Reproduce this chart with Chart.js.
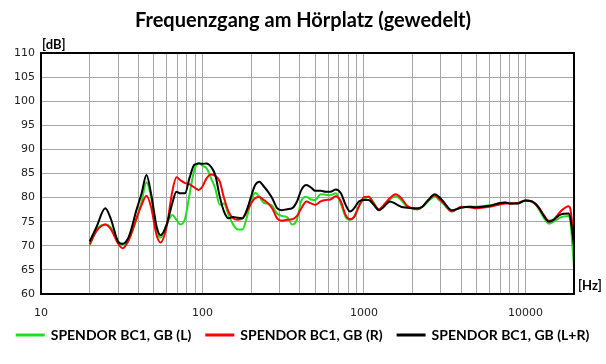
<!DOCTYPE html>
<html>
<head>
<meta charset="utf-8">
<script src="https://cdn.jsdelivr.net/npm/chart.js@4.4.1/dist/chart.umd.min.js"></script>
<style>
  body { margin: 0; background: #fff; }
  #wrap { width: 606px; height: 364px; }
</style>
</head>
<body>
<div id="wrap"><canvas id="myChart" width="606" height="364"></canvas></div>
<script>
// frequencies [Hz]
let freqs = [20, 22, 25, 27, 30, 32, 35, 39, 42, 45, 48, 52, 55, 60, 65, 69, 73, 78, 83, 89,
    95, 100, 106, 113, 120, 128, 136, 145, 155, 165, 177, 190, 200, 212, 225, 240, 255, 270, 290, 310,
    335, 360, 385, 410, 440, 470, 500, 540, 580, 620, 670, 720, 770, 820, 870, 930, 1000, 1070, 1150, 1240,
    1330, 1450, 1570, 1700, 1850, 2000, 2150, 2300, 2500, 2750, 2900, 3100, 3500, 4000, 4500, 5000, 6000, 7000, 7500, 8000,
    9000, 10000, 11000, 12000, 13000, 14000, 15000, 16500, 18500, 19000, 20000];

// levels [dB]
let left = [70, 73.2, 74.4, 73.8, 70.9, 70.3, 71.4, 75.4, 79.2, 83.2, 80.2, 73.3, 71.7, 74.4, 76.4, 75.4, 74.4, 75.6, 80.5, 85.7,
    87.2, 86.6, 86.1, 84, 81.9, 78.5, 78.8, 76.4, 74.4, 73.4, 73.4, 76.4, 79.2, 81, 80.2, 78.9, 78.7, 78.3, 76.7, 76.2,
    75.9, 74.4, 75.5, 79.4, 80.2, 79.6, 79.5, 80.7, 80.6, 80.5, 80.9, 78.7, 76, 75.4, 76, 78.3, 79.6, 80.2, 78.9, 77.4,
    78.3, 79.6, 80.3, 79.5, 78.1, 77.7, 77.6, 78.1, 79.2, 80.3, 79.6, 78.7, 77.2, 78, 78.1, 78.1, 78.4, 78.9, 79, 78.8,
    78.8, 79.4, 79.2, 77.8, 75.8, 74.6, 75, 75.9, 76.2, 75, 65.5];

let right = [70.3, 73, 74.4, 73.5, 70.5, 69.5, 71.2, 75.7, 78.5, 80.4, 78.1, 72.2, 70.7, 74, 81.2, 84.2, 83.6, 83, 82.8, 82.1,
    81.6, 82.3, 84, 84.8, 84.5, 83.3, 79.9, 77.1, 75.7, 75.4, 75.7, 77.4, 78.8, 79.9, 80.1, 79.5, 78.8, 77.8, 75.7, 75.2,
    75.4, 75.5, 76.2, 77.8, 79.2, 78.8, 78.5, 79.2, 79.5, 79.6, 80.3, 79.2, 76.4, 75.5, 76, 78.1, 80.1, 80.2, 78.8, 77.6,
    78.5, 79.9, 80.7, 79.9, 78.3, 77.8, 77.6, 78.1, 79.4, 80.5, 79.9, 78.9, 77.1, 78.1, 78, 77.8, 78.1, 78.6, 78.8, 78.8,
    78.9, 79.4, 79.1, 78.1, 76.4, 75.2, 75.5, 77.1, 78.2, 77.6, 71];

let both = [70.9, 73.8, 77.8, 75.7, 70.9, 70.4, 71.9, 77.4, 80.9, 84.7, 80.9, 74, 72.2, 74.4, 78.8, 81.2, 80.9, 80.9, 84, 86.8,
    87.1, 87, 87.1, 86.4, 84.7, 80.2, 77.1, 75.7, 76, 75.8, 75.7, 77.8, 80.2, 82.6, 83.3, 82.3, 81.2, 79.9, 77.8, 77.4,
    77.6, 77.8, 79.2, 81.6, 82.6, 82.1, 81.4, 81.4, 81.2, 81.2, 81.7, 80.9, 78.5, 77.1, 77.8, 79.2, 79.5, 79.5, 78.5, 77.4,
    78.1, 79.2, 78.7, 78.1, 77.9, 77.8, 77.8, 78.1, 79.5, 80.7, 80.2, 79.2, 77.4, 77.9, 78.1, 78, 78.3, 78.9, 79, 78.8,
    78.8, 79.4, 79.2, 78.1, 76.2, 75, 75.4, 76.5, 76.7, 75.7, 70];

let gridFreqs = [10, 20, 30, 40, 50, 60, 70, 80, 90, 100, 200, 300, 400, 500, 600, 700, 800, 900,
    1000, 2000, 3000, 4000, 5000, 6000, 7000, 8000, 9000, 10000, 20000];
let xLabels = [10, 100, 1000, 10000];

function pts(arr){
    return freqs.map((f, i) => ({x: f, y: arr[i]}));
}

const font = "Lato";

// black frame + unit labels, legend nudged up a bit
const frame = {
    id: 'frame',
    afterLayout(chart){
        chart.legend.top -= 8;
        chart.legend.bottom -= 8;
    },
    afterDraw(chart){
        const {ctx, chartArea: a} = chart;
        ctx.save();
        ctx.strokeStyle = '#000';
        ctx.lineWidth = 2;
        ctx.strokeRect(a.left, a.top, a.right - a.left, a.bottom - a.top);
        ctx.fillStyle = '#000';
        ctx.font = 'bold 13px ' + font;
        ctx.textBaseline = 'middle';
        ctx.textAlign = 'left';
        ctx.fillText('[dB]', a.left + 1, a.top - 8);
        ctx.fillText('[Hz]', a.right + 4, a.bottom - 8);
        ctx.restore();
    }
};

const ctx = document.getElementById('myChart').getContext('2d');

const myChart = new Chart(ctx, {
    type: 'line',
    data: {
        datasets: [{
            label: 'SPENDOR BC1, GB (L)',
            data: pts(left),
            borderColor: '#22dd22',
            backgroundColor: '#22dd22',
            order: 3
        }, {
            label: 'SPENDOR BC1, GB (R)',
            data: pts(right),
            borderColor: '#ff0000',
            backgroundColor: '#ff0000',
            order: 2
        }, {
            label: 'SPENDOR BC1, GB (L+R)',
            data: pts(both),
            borderColor: '#000000',
            backgroundColor: '#000000',
            order: 1
        }]
    },
    options: {
        responsive: false,
        animation: false,
        layout: { padding: { left: 0, right: 0, top: 0, bottom: 4 } },
        elements: {
            point: { radius: 0 },
            line: { borderWidth: 2, tension: 0.3, cubicInterpolationMode: 'monotone', fill: false }
        },
        plugins: {
            title: {
                display: true,
                text: 'Frequenzgang am Hörplatz (gewedelt)',
                color: '#000',
                font: { family: font, size: 20, weight: 'bold' },
                padding: { top: 9, bottom: 20 }
            },
            legend: {
                position: 'bottom',
                labels: {
                    color: '#000',
                    font: { family: font, size: 14, weight: 'bold' },
                    boxWidth: 27,
                    boxHeight: 1,
                    padding: 15,
                    sort: (a, b) => a.datasetIndex - b.datasetIndex
                }
            },
            tooltip: { enabled: false }
        },
        scales: {
            x: {
                type: 'logarithmic',
                min: 10,
                max: 20000,
                afterBuildTicks: s => { s.ticks = gridFreqs.map(v => ({value: v})); },
                afterFit: s => { s.height = 27; },
                grid: { color: '#a6a6a6', lineWidth: 1, drawTicks: false },
                border: { display: false },
                ticks: {
                    autoSkip: false,
                    maxRotation: 0,
                    padding: 13,
                    color: '#222',
                    font: { family: 'DejaVu Sans', size: 11 },
                    callback: v => xLabels.includes(v) ? String(v) : ''
                }
            },
            y: {
                min: 60,
                max: 110,
                afterFit: s => { s.width = 41; },
                grid: { color: '#a6a6a6', lineWidth: 1, drawTicks: false },
                border: { display: false },
                ticks: {
                    stepSize: 5,
                    padding: 6,
                    color: '#222',
                    font: { family: 'DejaVu Sans', size: 11 }
                }
            },
            // empty strip on the right for the [Hz] label
            yRight: {
                position: 'right',
                min: 60,
                max: 110,
                afterFit: s => { s.width = 32; },
                grid: { display: false },
                border: { display: false },
                ticks: { display: false }
            }
        }
    },
    plugins: [frame]
});
</script>
</body>
</html>
